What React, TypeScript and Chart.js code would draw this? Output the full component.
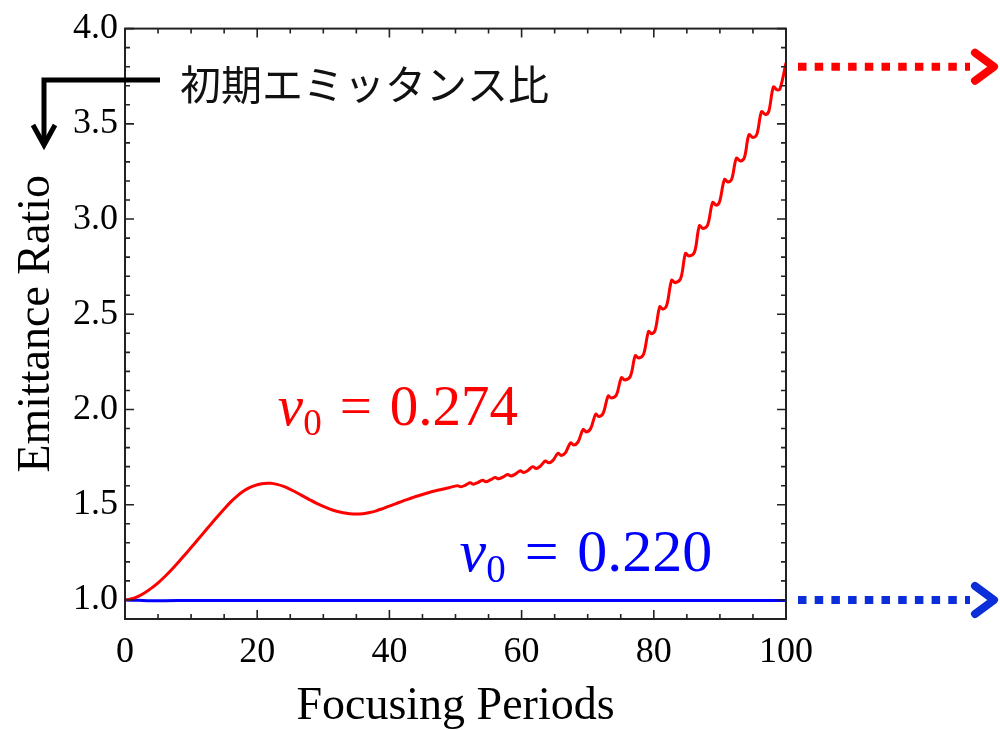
import React, { useEffect, useRef } from "react";
import { Chart, registerables } from "chart.js";

Chart.register(...registerables);

// ---------- data ----------
const xTickValues = [0, 20, 40, 60, 80, 100];
const yTickValues = [1.0, 1.5, 2.0, 2.5, 3.0, 3.5, 4.0];

const redX = [
  0, 1, 2, 3, 4, 5, 6, 7, 8, 9, 10, 11, 12, 13, 14, 15, 16, 17, 18, 19, 20, 21, 22, 23, 24,
  25, 26, 27, 28, 29, 30, 31, 32, 33, 34, 35, 36, 37, 38, 39, 40, 41, 42, 43, 44, 45, 46, 47, 48, 49,
  50.3, 50.8, 51.45, 52.2, 52.7, 53.35, 54.1, 54.6, 55.25, 56.0, 56.5, 57.15, 57.9, 58.4, 59.05,
  59.8, 60.3, 60.95, 61.7, 62.2, 62.85, 63.6, 64.1, 64.75, 65.5, 66.0, 66.65, 67.4, 67.9, 68.55,
  69.3, 69.8, 70.45, 71.2, 71.7, 72.35, 73.1, 73.6, 74.35, 75.1, 75.6, 76.45, 77.2, 77.7, 78.45,
  79.2, 79.65, 80.2, 80.9, 81.35, 81.95, 82.7, 83.2, 84.05, 84.8, 85.3, 86.15, 86.9, 87.45, 88.15,
  88.9, 89.45, 89.95, 90.7, 91.25, 91.8, 92.5, 93.1, 93.7, 94.4, 95.0, 95.6, 96.3, 96.9, 97.4,
  98.1, 98.65, 99.1, 100,
];
const redY = [
  1.0, 1.006, 1.019, 1.038, 1.062, 1.09, 1.122, 1.157, 1.195, 1.235, 1.275, 1.316, 1.357, 1.398,
  1.438, 1.477, 1.515, 1.547, 1.573, 1.592, 1.605, 1.612, 1.613, 1.607, 1.596, 1.581, 1.563, 1.544,
  1.525, 1.507, 1.491, 1.477, 1.466, 1.458, 1.453, 1.451, 1.453, 1.459, 1.468, 1.48, 1.493, 1.506,
  1.519, 1.531, 1.543, 1.554, 1.564, 1.573, 1.581, 1.589,
  1.6, 1.594, 1.602, 1.615, 1.608, 1.616, 1.628, 1.621, 1.63, 1.643, 1.636, 1.645, 1.659, 1.651, 1.661,
  1.678, 1.669, 1.68, 1.7, 1.69, 1.703, 1.73, 1.72, 1.733, 1.77, 1.759, 1.774, 1.825, 1.813, 1.83,
  1.895, 1.882, 1.9, 1.975, 1.963, 1.981, 2.071, 2.06, 2.077, 2.167, 2.155, 2.174, 2.283, 2.27, 2.29,
  2.41, 2.398, 2.416, 2.54, 2.527, 2.547, 2.679, 2.666, 2.686, 2.82, 2.806, 2.826, 2.965, 2.951, 2.969,
  3.087, 3.073, 3.091, 3.208, 3.194, 3.211, 3.32, 3.305, 3.322, 3.443, 3.428, 3.446, 3.564, 3.549, 3.566,
  3.694, 3.678, 3.684, 3.82,
];

const blueX = [0, 2, 4, 6, 10, 20, 40, 60, 80, 100];
const blueY = [1.0, 0.998, 0.996, 0.996, 0.997, 0.997, 0.997, 0.997, 0.997, 0.997];

const redLabel = "0.274";
const blueLabel = "0.220";
const jpLabel = "初期エミッタンス比";
const xTitle = "Focusing Periods";
const yTitle = "Emittance Ratio";

const SERIF = "'Liberation Serif', 'Times New Roman', serif";
const RED = "#ff0000";
const BLUE = "#0000ff";
const ARROW_BLUE = "#0a2ed8";

function drawNuLabel(
  ctx: CanvasRenderingContext2D,
  x0: number,
  base: number,
  value: string,
  color: string,
  size: number
) {
  const k = size / 56;
  ctx.fillStyle = color;
  ctx.textAlign = "left";
  ctx.textBaseline = "alphabetic";
  ctx.font = `italic ${size}px ${SERIF}`;
  ctx.fillText("ν", x0, base);
  ctx.font = `${Math.round(36 * k)}px ${SERIF}`;
  ctx.fillText("0", x0 + 25 * k, base + 10 * k);
  ctx.font = `${size}px ${SERIF}`;
  ctx.fillText("=", x0 + 61 * k, base);
  ctx.fillText(value, x0 + 110 * k, base);
}

function drawDottedArrow(ctx: CanvasRenderingContext2D, x0: number, y: number, color: string) {
  ctx.save();
  ctx.strokeStyle = color;
  ctx.lineWidth = 8;
  ctx.lineCap = "butt";
  ctx.setLineDash([8.5, 8.2]);
  ctx.beginPath();
  ctx.moveTo(x0, y);
  ctx.lineTo(970, y);
  ctx.stroke();
  ctx.setLineDash([]);
  ctx.lineCap = "round";
  ctx.lineJoin = "round";
  ctx.beginPath();
  ctx.moveTo(975, y - 14);
  ctx.lineTo(994, y);
  ctx.lineTo(975, y + 14);
  ctx.stroke();
  ctx.restore();
}

const decorPlugin = {
  id: "decor",
  afterDraw(chart: any) {
    const { ctx, chartArea, scales } = chart;
    const { left, right, top, bottom } = chartArea;
    const xs = scales.x;
    const ys = scales.y;
    ctx.save();
    // frame
    ctx.strokeStyle = "#222";
    ctx.lineWidth = 2;
    ctx.strokeRect(left, top, right - left, bottom - top);
    // ticks (inward, all four sides)
    ctx.lineWidth = 1.6;
    ctx.beginPath();
    for (let v = 0; v <= 100; v += 5) {
      const px = xs.getPixelForValue(v);
      const len = v % 20 === 0 ? 9 : 5;
      ctx.moveTo(px, bottom);
      ctx.lineTo(px, bottom - len);
      ctx.moveTo(px, top);
      ctx.lineTo(px, top + len);
    }
    for (let i = 10; i <= 40; i++) {
      const py = ys.getPixelForValue(i / 10);
      const len = i % 5 === 0 ? 9 : 5;
      ctx.moveTo(left, py);
      ctx.lineTo(left + len, py);
      ctx.moveTo(right, py);
      ctx.lineTo(right - len, py);
    }
    ctx.stroke();

    // curve labels
    drawNuLabel(ctx, xs.getPixelForValue(23.1), ys.getPixelForValue(1.92), redLabel, RED, 57);
    drawNuLabel(ctx, xs.getPixelForValue(50.6), ys.getPixelForValue(1.15), blueLabel, BLUE, 60);

    // japanese label with bent arrow
    ctx.fillStyle = "#111";
    ctx.font = `41px 'Noto Sans CJK JP', sans-serif`;
    ctx.textAlign = "left";
    ctx.textBaseline = "middle";
    ctx.fillText(jpLabel, 180, 84);
    ctx.strokeStyle = "#000";
    ctx.lineWidth = 5;
    ctx.lineJoin = "miter";
    ctx.lineCap = "butt";
    ctx.beginPath();
    ctx.moveTo(160, 80);
    ctx.lineTo(44, 80);
    ctx.lineTo(44, 143);
    ctx.stroke();
    ctx.beginPath();
    ctx.moveTo(33, 125);
    ctx.lineTo(44, 145);
    ctx.lineTo(55, 125);
    ctx.stroke();

    // dotted arrows to the right
    drawDottedArrow(ctx, right + 12, ys.getPixelForValue(3.8), RED);
    drawDottedArrow(ctx, right + 12, ys.getPixelForValue(1.0), ARROW_BLUE);
    ctx.restore();
  },
};

export default function App() {
  const ref = useRef<HTMLCanvasElement | null>(null);
  useEffect(() => {
    if (!ref.current) return;
    const chart = new Chart(ref.current, {
      type: "line",
      data: {
        datasets: [
          {
            label: "0.274",
            data: redX.map((x, i) => ({ x, y: redY[i] })),
            borderColor: RED,
            borderWidth: 3,
            pointRadius: 0,
            tension: 0.35,
            fill: false,
          },
          {
            label: "0.220",
            data: blueX.map((x, i) => ({ x, y: blueY[i] })),
            borderColor: BLUE,
            borderWidth: 3,
            pointRadius: 0,
            cubicInterpolationMode: "monotone",
            fill: false,
          },
        ],
      },
      options: {
        responsive: false,
        animation: false,
        layout: { padding: { left: 7, right: 214, top: 23, bottom: 0 } },
        plugins: { legend: { display: false }, tooltip: { enabled: false } },
        scales: {
          x: {
            type: "linear",
            min: 0,
            max: 100,
            grid: { display: false, drawTicks: false },
            border: { display: false },
            afterBuildTicks: (s: any) => {
              s.ticks = xTickValues.map((v) => ({ value: v }));
            },
            afterFit: (s: any) => {
              s.height = 111;
            },
            ticks: {
              color: "#000",
              padding: 12,
              font: { family: SERIF, size: 36 },
              maxRotation: 0,
              callback: (v: any) => String(v),
            },
            title: {
              display: true,
              text: xTitle,
              color: "#000",
              font: { family: SERIF, size: 46 },
              padding: { top: 0, bottom: -5 },
            },
          },
          y: {
            type: "linear",
            min: 0.9,
            max: 4.0,
            grid: { display: false, drawTicks: false },
            border: { display: false },
            afterBuildTicks: (s: any) => {
              s.ticks = yTickValues.map((v) => ({ value: v }));
            },
            afterFit: (s: any) => {
              s.width = 118;
            },
            ticks: {
              color: "#000",
              padding: 7,
              font: { family: SERIF, size: 36 },
              callback: (v: any) => Number(v).toFixed(1),
            },
            title: {
              display: true,
              text: yTitle,
              color: "#000",
              font: { family: SERIF, size: 46 },
              padding: { top: 2, bottom: 0 },
            },
          },
        },
      },
      plugins: [decorPlugin],
    });
    return () => chart.destroy();
  }, []);
  return (
    <div style={{ position: "absolute", left: 0, top: 0, width: 1000, height: 730, background: "#fff" }}>
      <canvas ref={ref} width={1000} height={730} style={{ display: "block" }} />
    </div>
  );
}
